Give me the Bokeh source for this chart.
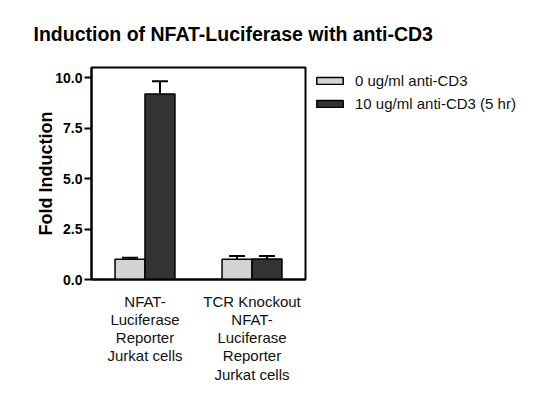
from bokeh.plotting import figure
from bokeh.models import (ColumnDataSource, FactorRange, Range1d, FixedTicker,
                          PrintfTickFormatter, Whisker, TeeHead, Legend, LegendItem)
from bokeh.transform import dodge
from bokeh.embed import file_html
from bokeh.resources import INLINE

# ---- data ----
groups = ["NFAT-\nLuciferase\nReporter\nJurkat cells",
          "TCR Knockout\nNFAT-\nLuciferase\nReporter\nJurkat cells"]
series_names = ["0 ug/ml anti-CD3", "10 ug/ml anti-CD3 (5 hr)"]
values_0 = [1.0, 1.0]
errors_0 = [0.08, 0.17]
values_10 = [9.19, 1.01]
errors_10 = [0.63, 0.16]
y_ticks = [0, 2.5, 5.0, 7.5, 10.0]

src = ColumnDataSource(dict(
    g=groups,
    v0=values_0, up0=[v + e for v, e in zip(values_0, errors_0)],
    v10=values_10, up10=[v + e for v, e in zip(values_10, errors_10)],
))

FONT = "Liberation Sans"
BW = 0.28

p = figure(frame_width=214, frame_height=212,
           x_range=FactorRange(*groups, range_padding=0.0),
           y_range=Range1d(0, 10.5),
           output_backend="svg", toolbar_location=None,
           min_border_left=91, min_border_right=0,
           min_border_top=67, min_border_bottom=10)

p.title.text = "Induction of NFAT-Luciferase with anti-CD3"
p.title.text_font = FONT
p.title.text_font_size = "19.5px"
p.title.text_font_style = "bold"
p.title.text_color = "black"
p.title.align = "left"
p.title.offset = -58
p.title.standoff = 42
p.title.vertical_align = "top"

r0 = p.vbar(x=dodge("g", -BW / 2, range=p.x_range), top="v0", width=BW, source=src,
            fill_color="#d4d4d4", line_color="black", line_width=1.5)
r10 = p.vbar(x=dodge("g", BW / 2, range=p.x_range), top="v10", width=BW, source=src,
             fill_color="#333333", line_color="black", line_width=1.5)

for off, lo, up in [(-BW / 2, "v0", "up0"), (BW / 2, "v10", "up10")]:
    w = Whisker(base=dodge("g", off, range=p.x_range), lower=lo, upper=up, source=src,
                line_width=2, line_color="black",
                upper_head=TeeHead(size=16, line_width=2, line_color="black"),
                lower_head=None, level="underlay")
    p.add_layout(w)

p.xgrid.visible = False
p.ygrid.visible = False
p.outline_line_color = "black"
p.outline_line_width = 2
p.background_fill_color = "white"

xa = p.xaxis[0]
xa.axis_line_width = 2
xa.major_tick_line_color = None
xa.minor_tick_line_color = None
xa.major_label_text_font = FONT
xa.major_label_text_font_size = "15px"
xa.major_label_text_color = "#111111"
xa.major_label_text_line_height = 1.075
xa.major_label_standoff = 7
xa.major_label_orientation = "horizontal"

ya = p.yaxis[0]
ya.ticker = FixedTicker(ticks=y_ticks)
ya.formatter = PrintfTickFormatter(format="%.1f")
ya.axis_line_width = 2
ya.major_tick_line_width = 2
ya.major_tick_out = 7
ya.major_tick_in = 0
ya.minor_tick_line_color = None
ya.major_label_text_font = FONT
ya.major_label_text_font_size = "14px"
ya.major_label_text_font_style = "bold"
ya.major_label_text_color = "black"
ya.major_label_standoff = 2
ya.axis_label = "Fold Induction"
ya.axis_label_text_font = FONT
ya.axis_label_text_font_size = "18px"
ya.axis_label_text_font_style = "bold"
ya.axis_label_text_color = "black"
ya.axis_label_standoff = -4

legend = Legend(items=[LegendItem(label=series_names[0], renderers=[r0]),
                       LegendItem(label=series_names[1], renderers=[r10])],
                location=(8, 167), glyph_width=33, glyph_height=9,
                label_text_font=FONT, label_text_font_size="15px",
                label_text_color="#111111",
                label_standoff=9, spacing=6, padding=0, margin=0,
                border_line_color=None, background_fill_alpha=0)
p.add_layout(legend, "right")

open("out.html", "w").write(file_html(p, INLINE))
